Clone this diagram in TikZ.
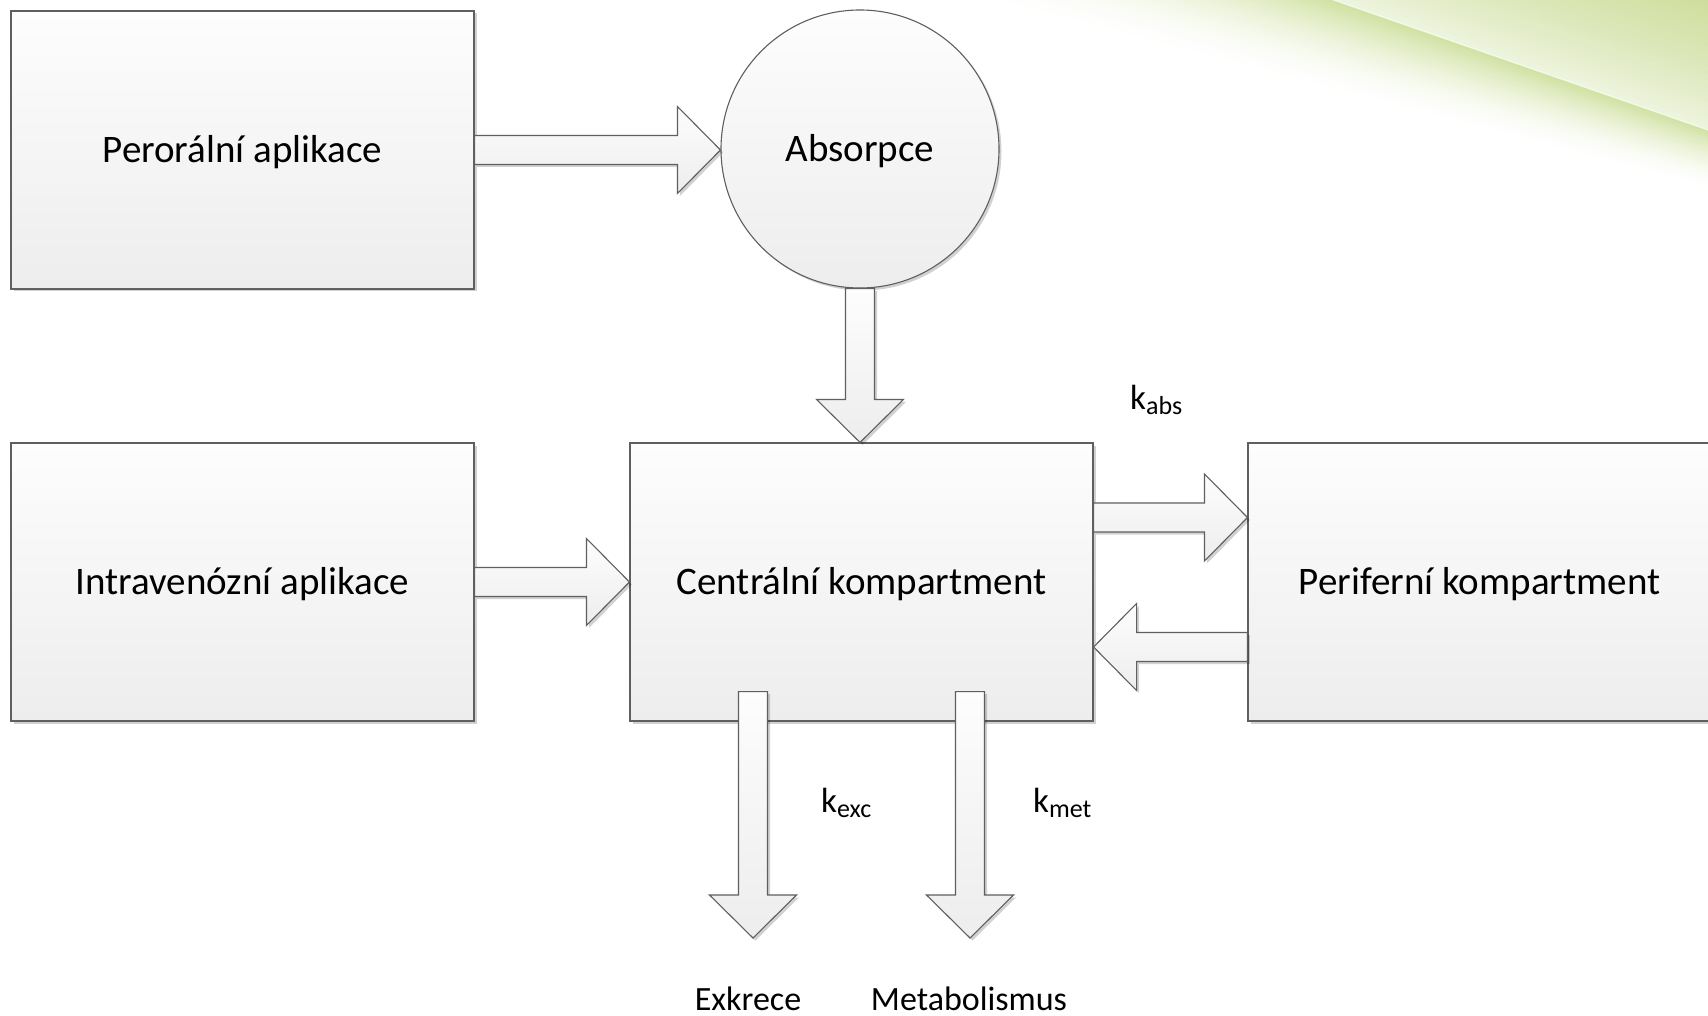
\documentclass[tikz,border=0pt]{standalone}
\usepackage{fontspec}
\setmainfont{Carlito}
\usetikzlibrary{calc,shadows}
\definecolor{swoosh}{HTML}{D0E0A0}
\definecolor{swgreen}{HTML}{CDDC98}
\definecolor{swpale}{HTML}{EFF5E2}
\definecolor{edge}{HTML}{5F5F5F}
\definecolor{shadetop}{HTML}{FDFDFD}
\definecolor{shadebot}{HTML}{EDEDED}
\tikzset{
  blk/.style={draw=edge, line width=1.1pt, top color=shadetop, bottom color=shadebot,
    drop shadow={shadow xshift=2.5pt, shadow yshift=-2.5pt, opacity=0.18, fill=black}},
  boxnode/.style={blk, rectangle, minimum width=463pt, minimum height=278pt, inner sep=0pt,
    font=\fontsize{39}{47}\selectfont, text height=25pt, text depth=0pt},
  circnode/.style={blk, circle, minimum size=278pt, inner sep=0pt,
    font=\fontsize{39}{47}\selectfont, text height=25pt, text depth=0pt},
  barrow/.style={blk, line join=miter},
  klabel/.style={anchor=base west, inner sep=0pt, font=\fontsize{35}{42}\selectfont},
  outlabel/.style={anchor=base, inner sep=0pt, font=\fontsize{34}{41}\selectfont},
}
\newcommand{\arrowR}[2]{\draw[barrow] let \p1=(#1), \p2=(#2) in
  (\x1,\y1+14.5) -- (\x2-43,\y1+14.5) -- (\x2-43,\y1+43.5) -- (\x2,\y1) --
  (\x2-43,\y1-43.5) -- (\x2-43,\y1-14.5) -- (\x1,\y1-14.5) -- cycle;}
\newcommand{\arrowL}[2]{\draw[barrow] let \p1=(#1), \p2=(#2) in
  (\x1,\y1+14.5) -- (\x2+43,\y1+14.5) -- (\x2+43,\y1+43.5) -- (\x2,\y1) --
  (\x2+43,\y1-43.5) -- (\x2+43,\y1-14.5) -- (\x1,\y1-14.5) -- cycle;}
\newcommand{\arrowD}[2]{\draw[barrow] let \p1=(#1), \p2=(#2) in
  (\x1-14.5,\y1) -- (\x1-14.5,\y2+43) -- (\x1-43.5,\y2+43) -- (\x1,\y2) --
  (\x1+43.5,\y2+43) -- (\x1+14.5,\y2+43) -- (\x1+14.5,\y1) -- cycle;}
\begin{document}
\begin{tikzpicture}[x=1pt,y=-1pt]
\useasboundingbox (0,0) rectangle (1708,1016);
\begin{scope}
\clip (0,0) rectangle (1708,1016);
\fill[white] (0,0) rectangle (1708,1016);
% background swoosh: band below the diagonal, fading to white
\foreach \i in {0,...,29} {
  \pgfmathsetmacro{\ta}{\i/30}
  \pgfmathsetmacro{\tb}{(\i+1)/30}
  \pgfmathsetmacro{\tm}{(\i+0.5)/30}
  \pgfmathsetmacro{\pc}{100*(1-\tm)^1.7}
  \fill[swoosh!\pc!white] (900,-150.6+\ta*131.9) -- (1708,130+\ta*60) --
     (1708,130.5+\tb*60) -- (900,-150.1+\tb*131.9) -- cycle;
}
% region above the diagonal: pale near the line, greener away from it
\foreach \i in {0,...,19} {
  \pgfmathsetmacro{\sa}{\i*7}
  \pgfmathsetmacro{\sb}{(\i+1)*7+0.5}
  \pgfmathsetmacro{\pc}{100*((\i+0.5)/20)^0.8}
  \fill[swgreen!\pc!swpale] (1000,-115.9-\sa) -- (1708,130-\sa) --
     (1708,130-\sb) -- (1000,-115.9-\sb) -- cycle;
}
\draw[white, line width=1.5pt, opacity=0.5] (1000,-115.9) -- (1708,130);

% nodes
\node[boxnode] (per) at (242.5,150) {Perorální aplikace};
\node[boxnode] (iv) at (242.5,582) {Intravenózní aplikace};
\node[boxnode] (cen) at (861.5,582) {Centrální kompartment};
\node[boxnode] (peri) at (1479.5,582) {Periferní kompartment};
\node[circnode] (abs) at (860,149) {Absorpce};

\coordinate (exkt) at (753,938);
\coordinate (mett) at (970,938);

% arrows
\arrowR{per.east}{abs.west}
\arrowD{abs.south}{cen.north}
\arrowR{iv.east}{cen.west}
\arrowR{$(cen.east)+(0,-64.5)$}{$(peri.west)+(0,-64.5)$}
\arrowL{$(peri.west)+(0,65)$}{$(cen.east)+(0,65)$}
\arrowD{$(cen.south)+(-108.5,-30)$}{exkt}
\arrowD{$(cen.south)+(108.5,-30)$}{mett}

% labels
\node[klabel] (kabs) at (1130,409) {k\raisebox{-5pt}{\fontsize{26}{30}\selectfont abs}};
\node[klabel] (kexc) at (821,812) {k\raisebox{-5pt}{\fontsize{26}{30}\selectfont exc}};
\node[klabel] (kmet) at (1033,812) {k\raisebox{-5pt}{\fontsize{26}{30}\selectfont met}};
\node[outlabel] (exk) at (748,1010) {Exkrece};
\node[outlabel] (met) at (969,1010) {Metabolismus};
\end{scope}
\end{tikzpicture}
\end{document}
